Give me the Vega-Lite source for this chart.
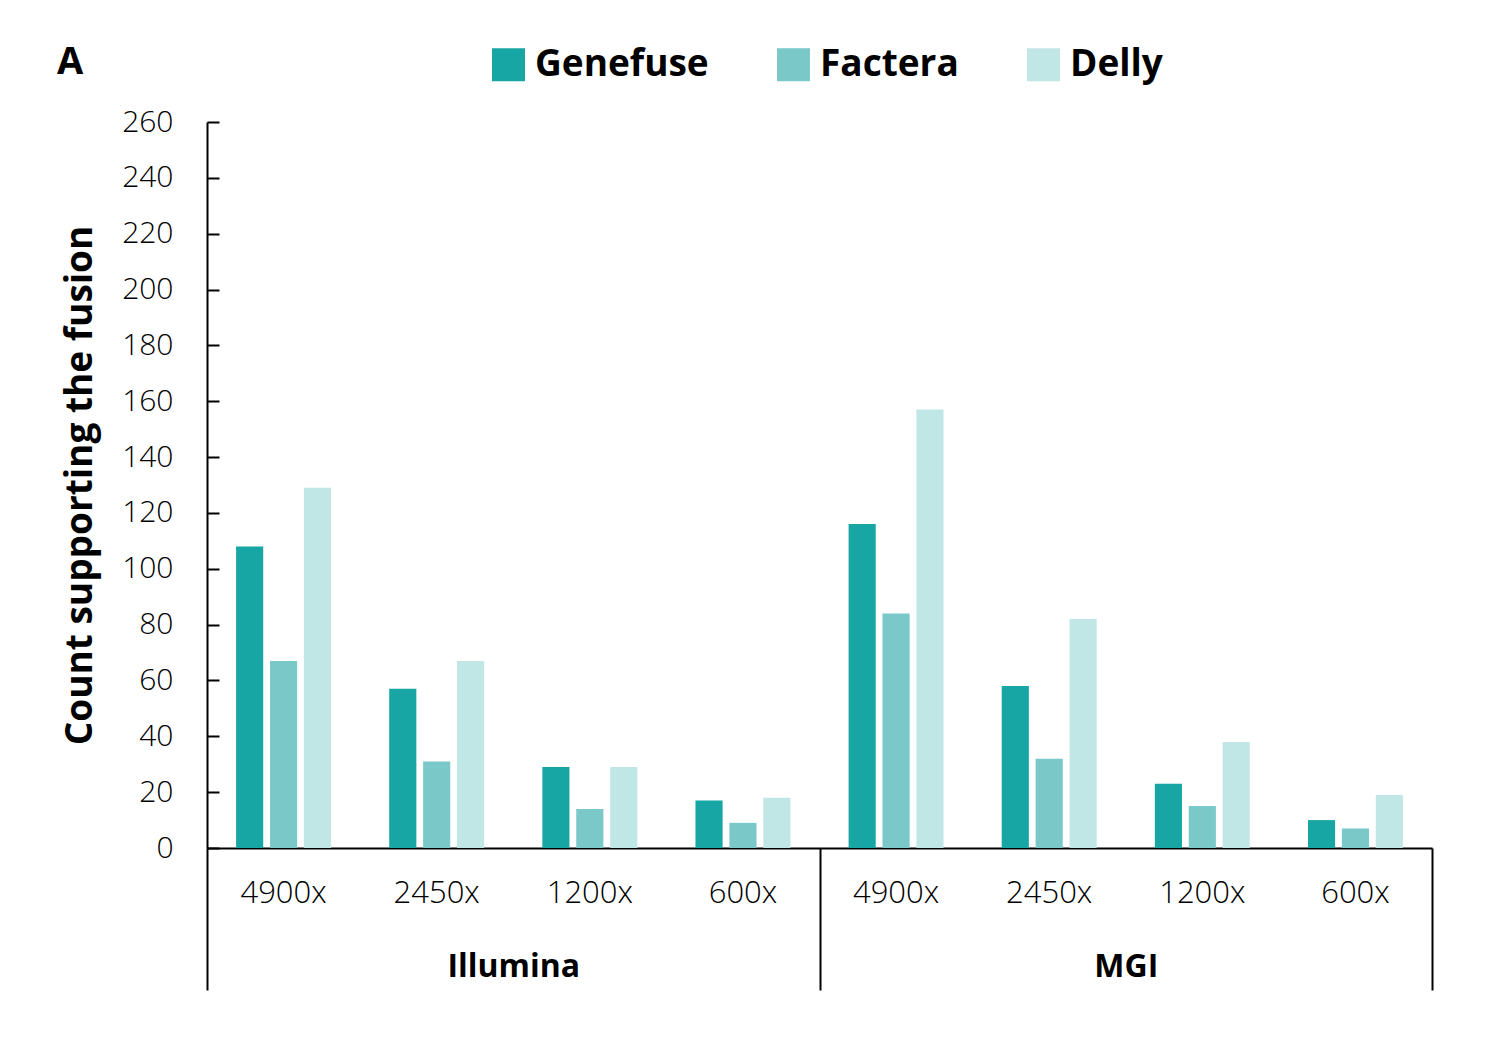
{
  "$schema": "https://vega.github.io/schema/vega-lite/v6.json",
  "autosize": "none",
  "width": 1225,
  "height": 726,
  "padding": {"left": 207, "top": 122, "right": 70, "bottom": 198},
  "background": "white",
  "config": {"view": {"stroke": null}, "font": "Open Sans"},
  "title": {"text": "A", "anchor": "start", "frame": "group", "dx": -150, "offset": -36, "fontSize": 38, "font": "Open Sans", "fontWeight": "bold", "color": "black"},
  "datasets": {
    "bars": [
      {"cat": "Illumina|4900x", "tool": "Genefuse", "value": 108},
      {"cat": "Illumina|4900x", "tool": "Factera", "value": 67},
      {"cat": "Illumina|4900x", "tool": "Delly", "value": 129},
      {"cat": "Illumina|2450x", "tool": "Genefuse", "value": 57},
      {"cat": "Illumina|2450x", "tool": "Factera", "value": 31},
      {"cat": "Illumina|2450x", "tool": "Delly", "value": 67},
      {"cat": "Illumina|1200x", "tool": "Genefuse", "value": 29},
      {"cat": "Illumina|1200x", "tool": "Factera", "value": 14},
      {"cat": "Illumina|1200x", "tool": "Delly", "value": 29},
      {"cat": "Illumina|600x", "tool": "Genefuse", "value": 17},
      {"cat": "Illumina|600x", "tool": "Factera", "value": 9},
      {"cat": "Illumina|600x", "tool": "Delly", "value": 18},
      {"cat": "MGI|4900x", "tool": "Genefuse", "value": 116},
      {"cat": "MGI|4900x", "tool": "Factera", "value": 84},
      {"cat": "MGI|4900x", "tool": "Delly", "value": 157},
      {"cat": "MGI|2450x", "tool": "Genefuse", "value": 58},
      {"cat": "MGI|2450x", "tool": "Factera", "value": 32},
      {"cat": "MGI|2450x", "tool": "Delly", "value": 82},
      {"cat": "MGI|1200x", "tool": "Genefuse", "value": 23},
      {"cat": "MGI|1200x", "tool": "Factera", "value": 15},
      {"cat": "MGI|1200x", "tool": "Delly", "value": 38},
      {"cat": "MGI|600x", "tool": "Genefuse", "value": 10},
      {"cat": "MGI|600x", "tool": "Factera", "value": 7},
      {"cat": "MGI|600x", "tool": "Delly", "value": 19}
    ],
    "platforms": [{"platform": "Illumina"}, {"platform": "MGI"}]
  },
  "layer": [
    {
      "data": {"name": "bars"},
      "mark": {"type": "bar"},
      "encoding": {
        "x": {
          "field": "cat", "type": "nominal", "sort": null,
          "scale": {"paddingInner": 0.38, "paddingOuter": 0.19},
          "axis": {
            "orient": "bottom", "title": null, "labelExpr": "split(datum.value, '|')[1]",
            "labelAngle": 0, "ticks": false, "domain": true, "domainColor": "black", "domainWidth": 2,
            "labelFont": "Open Sans", "labelFontWeight": 300, "labelFontSize": 31, "labelColor": "black",
            "labelPadding": 30
          }
        },
        "xOffset": {"field": "tool", "type": "nominal", "sort": ["Genefuse", "Factera", "Delly"], "scale": {"paddingInner": 0.2, "paddingOuter": 0}},
        "y": {
          "field": "value", "type": "quantitative",
          "scale": {"domain": [0, 260], "nice": false},
          "axis": {
            "title": "Count supporting the fusion", "titleFont": "Open Sans", "titleFontWeight": "bold", "titleFontSize": 37, "titleColor": "black", "titlePadding": 22,
            "values": [0, 20, 40, 60, 80, 100, 120, 140, 160, 180, 200, 220, 240, 260],
            "grid": false, "domainColor": "black", "domainWidth": 2, "tickColor": "black", "tickWidth": 2, "tickSize": -12,
            "labelFont": "Open Sans", "labelFontWeight": 300, "labelFontSize": 30, "labelColor": "black", "labelPadding": 46
          }
        },
        "color": {
          "field": "tool", "type": "nominal", "sort": ["Genefuse", "Factera", "Delly"],
          "scale": {"domain": ["Genefuse", "Factera", "Delly"], "range": ["#17A6A4", "#7AC8C8", "#C0E6E5"]},
          "legend": {
            "title": null, "orient": "none", "direction": "horizontal", "legendX": 283, "legendY": -76,
            "symbolType": "square", "symbolSize": 1089, "symbolStrokeWidth": 0, "symbolOpacity": 1,
            "labelFont": "Open Sans", "labelFontWeight": "bold", "labelFontSize": 37, "labelColor": "black",
            "labelOffset": 8, "columnPadding": 66, "labelLimit": 400
          }
        }
      }
    },
    {
      "data": {"name": "platforms"},
      "mark": {"type": "point", "opacity": 0},
      "encoding": {
        "x": {
          "field": "platform", "type": "nominal",
          "scale": {"paddingInner": 0, "paddingOuter": 0},
          "axis": {
            "orient": "bottom", "title": null, "labelAngle": 0, "domain": false,
            "ticks": true, "tickBand": "extent", "tickSize": 142, "tickWidth": 2, "tickColor": "black",
            "labelFont": "Open Sans", "labelFontWeight": "bold", "labelFontSize": 32, "labelColor": "black",
            "labelPadding": -39
          }
        }
      }
    }
  ],
  "resolve": {"scale": {"x": "independent"}, "axis": {"x": "independent"}}
}
